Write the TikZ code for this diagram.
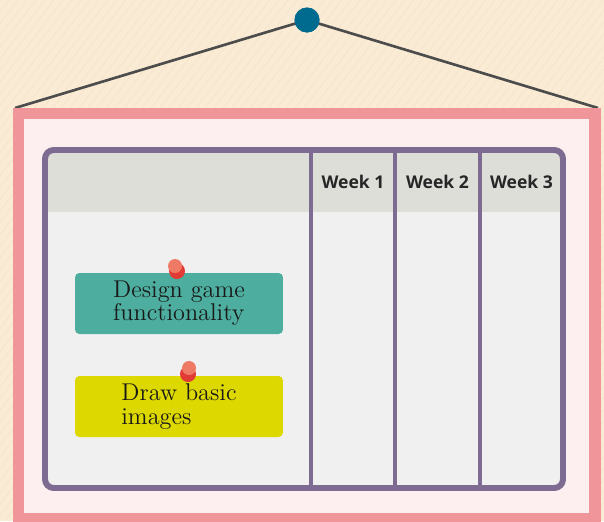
\documentclass[tikz,border=0pt]{standalone}
\usepackage{fontspec}
\newfontfamily\headfont{Open Sans}

\definecolor{paper}{HTML}{FAEBD5}
\definecolor{paperline}{HTML}{F6E4CB}
\definecolor{framepink}{HTML}{F0959A}
\definecolor{boardpink}{HTML}{FDEFEF}
\definecolor{gridpurple}{HTML}{7E6B91}
\definecolor{headgray}{HTML}{DEDED9}
\definecolor{bodygray}{HTML}{F0F0F0}
\definecolor{noteteal}{HTML}{4DAE9F}
\definecolor{noteyellow}{HTML}{DDD800}
\definecolor{pinred}{HTML}{E23B35}
\definecolor{pinlight}{HTML}{EE7A66}
\definecolor{hookblue}{HTML}{006B8F}

\begin{document}
\begin{tikzpicture}[x=0.02cm, y=-0.02cm,
	every node/.style={inner sep=0pt},
	week/.style={font=\headfont\bfseries\fontsize{10}{12}\selectfont, text=black!85},
	note/.style={rounded corners=2.5pt, minimum width=4.16cm, minimum height=1.22cm,
		align=left, font=\fontsize{13.8}{13.2}\selectfont, text=black!90}]
	\useasboundingbox (0,0) rectangle (604,521);

	% wall with faint diagonal stripes
	\fill[paper] (0,0) rectangle (604,521);
	\begin{scope}
		\clip (0,0) rectangle (604,521);
		\foreach \k in {0,...,110} {
			\draw[paperline, line width=0.4pt] (-400+\k*9,521) -- (\k*9,0);
		}
	\end{scope}

	% hook and string
	\node[circle, fill=hookblue, minimum size=0.5cm] (hook) at (307,20) {};
	\coordinate (left end) at (15,108);
	\coordinate (right end) at (598,108);
	\draw[black!70, line width=1.5pt] (left end) -- (hook.center) -- (right end);
	\fill[hookblue] (hook) circle (12.5);

	% board
	\fill[framepink] (13,108) rectangle (601,530);
	\fill[boardpink] (24,119) rectangle (589,513);

	% planner grid
	\begin{scope}
		\clip[rounded corners=5pt] (45,150) rectangle (563,488);
		\fill[bodygray] (45,150) rectangle (563,488);
		\fill[headgray] (45,150) rectangle (563,212);
	\end{scope}
	\foreach \x in {311,395,480} {
		\draw[gridpurple, line width=2.2pt] (\x,150) -- (\x,488);
	}
	\draw[gridpurple, line width=3.4pt, rounded corners=5pt] (45,150) rectangle (563,488);

	\node[week] (week1) at (353,182) {Week 1};
	\node[week] (week2) at (437.5,182) {Week 2};
	\node[week] (week3) at (521.5,182) {Week 3};

	% task cards
	\node[note, fill=noteteal] (design) at (179,303.5) {Design game\\functionality};
	\node[note, fill=noteyellow] (draw) at (179,406.5) {Draw basic\\images};

	% push pins
	\fill[pinred] (177,271) circle (8);
	\fill[pinlight] (175,266) circle (7);
	\fill[pinred] (188,374) circle (8);
	\fill[pinlight] (189,368) circle (7);

\end{tikzpicture}
\end{document}
